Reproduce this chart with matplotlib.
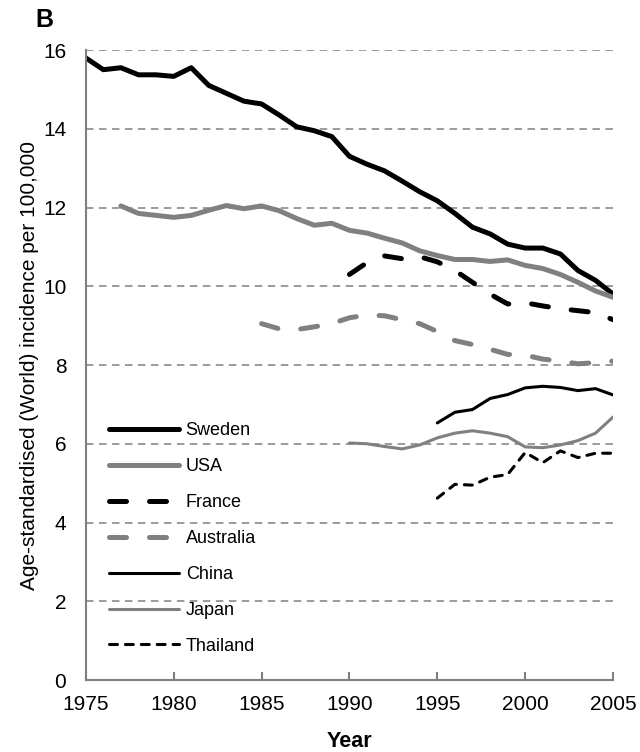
import numpy as np
import matplotlib.pyplot as plt

plt.rcParams['font.family'] = ['Liberation Sans', 'DejaVu Sans']

# data (age-standardised incidence per 100,000)
sweden_years = list(range(1975, 2006))
sweden = [15.8, 15.5, 15.55, 15.37, 15.37, 15.33, 15.55, 15.1, 14.9, 14.7, 14.63,
          14.35, 14.05, 13.95, 13.8, 13.3, 13.1, 12.93, 12.67, 12.4, 12.17,
          11.85, 11.5, 11.33, 11.07, 10.97, 10.97, 10.82, 10.4, 10.15, 9.8]

usa_years = list(range(1977, 2006))
usa = [12.04, 11.85, 11.8, 11.75, 11.8, 11.93, 12.05, 11.97, 12.04, 11.92, 11.72,
       11.55, 11.6, 11.42, 11.35, 11.22, 11.1, 10.9, 10.78, 10.68, 10.68, 10.63,
       10.67, 10.53, 10.45, 10.3, 10.1, 9.88, 9.72]

france_years = list(range(1990, 2006))
france = [10.3, 10.6, 10.77, 10.7, 10.75, 10.62, 10.4, 10.1, 9.8, 9.55, 9.58,
          9.5, 9.43, 9.38, 9.33, 9.15]

australia_years = list(range(1985, 2006))
australia = [9.05, 8.92, 8.9, 8.97, 9.05, 9.2, 9.27, 9.25, 9.15, 9.05, 8.85,
             8.62, 8.52, 8.4, 8.27, 8.25, 8.15, 8.1, 8.03, 8.06, 8.1]

china_years = list(range(1995, 2006))
china = [6.53, 6.8, 6.87, 7.15, 7.25, 7.42, 7.46, 7.43, 7.35, 7.4, 7.24]

japan_years = list(range(1990, 2006))
japan = [6.02, 6.0, 5.93, 5.87, 5.97, 6.15, 6.27, 6.33, 6.27, 6.18, 5.92,
         5.9, 5.97, 6.08, 6.27, 6.68]

thailand_years = list(range(1995, 2006))
thailand = [4.62, 4.97, 4.95, 5.15, 5.22, 5.78, 5.52, 5.82, 5.65, 5.76, 5.76]

grey = '#808080'

fig = plt.figure(figsize=(6.4, 7.52), dpi=100)
ax = fig.add_axes([0.134, 0.0957, 0.824, 0.8378])

thick = 3.6
thin = 2.2
ax.plot(sweden_years, sweden, color='black', lw=thick, label='Sweden',
        solid_capstyle='round', solid_joinstyle='round')
ax.plot(usa_years, usa, color=grey, lw=thick, label='USA',
        solid_capstyle='round', solid_joinstyle='round')
ax.plot(france_years, france, color='black', lw=thick, label='France',
        linestyle=(0, (3.4, 4.6)), dash_capstyle='round')
ax.plot(australia_years, australia, color=grey, lw=thick, label='Australia',
        linestyle=(0, (3.4, 4.6)), dash_capstyle='round')
ax.plot(china_years, china, color='black', lw=thin, label='China',
        solid_capstyle='round', solid_joinstyle='round')
ax.plot(japan_years, japan, color=grey, lw=thin, label='Japan',
        solid_capstyle='round', solid_joinstyle='round')
ax.plot(thailand_years, thailand, color='black', lw=thin, label='Thailand',
        linestyle=(0, (2.6, 2.6)), dash_capstyle='round')

ax.set_xlim(1975, 2005)
ax.set_ylim(0, 16)
ax.set_xticks(range(1975, 2006, 5))
ax.set_yticks(range(0, 17, 2))

ax.yaxis.grid(True, color=grey, lw=1.1, linestyle=(0, (4.9, 3.6)))
ax.set_axisbelow(True)

for side in ['top', 'right']:
    ax.spines[side].set_visible(False)
for side in ['left', 'bottom']:
    ax.spines[side].set_color(grey)
    ax.spines[side].set_linewidth(1.5)

ax.tick_params(axis='x', direction='in', length=6, width=1.5, color=grey,
               labelsize=15, pad=11)
ax.tick_params(axis='y', length=0, labelsize=15, pad=14)

ax.set_xlabel('Year', fontsize=15.5, fontweight='bold', labelpad=12)
ax.set_ylabel('Age-standardised (World) incidence per 100,000', fontsize=15,
              labelpad=3)

fig.text(0.055, 0.99, 'B', fontsize=18, fontweight='bold', va='top')

ax.legend(loc='lower left', bbox_to_anchor=(0.02, 0.02), frameon=False,
          fontsize=13, handlelength=3.9, handletextpad=0.35, labelspacing=1.05,
          borderaxespad=0.3)

fig.savefig('out.png', dpi=100)
